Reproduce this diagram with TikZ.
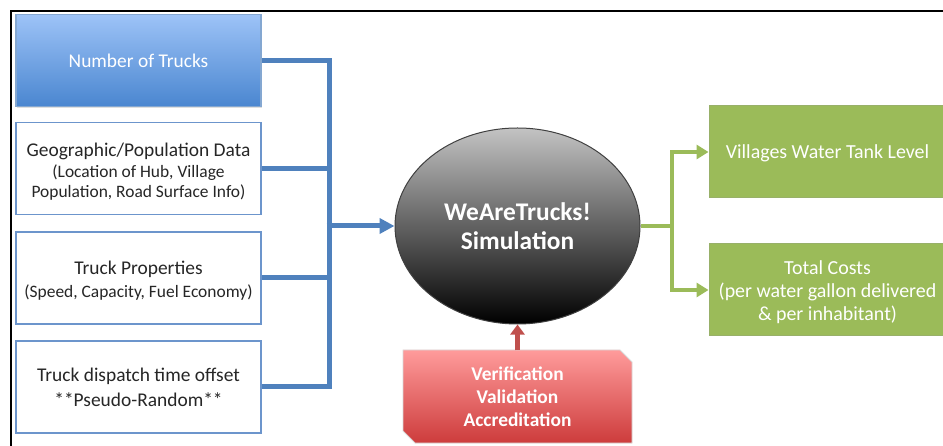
\documentclass[tikz,border=0pt]{standalone}
\usepackage{fontspec}
\setmainfont{Carlito}
\usetikzlibrary{shapes.geometric,arrows.meta,shadows}
\definecolor{oblue}{HTML}{4F81BD}
\definecolor{lblue}{HTML}{6C95CC}
\definecolor{ogreen}{HTML}{9BBB59}
\definecolor{dgreen}{HTML}{7E9C44}
\definecolor{ored}{HTML}{C0504D}
\definecolor{bluetop}{HTML}{9DC3F7}
\definecolor{bluebot}{HTML}{4A86D0}
\definecolor{graytop}{HTML}{C3C3C3}
\definecolor{redtop}{HTML}{FF9B9B}
\definecolor{redbot}{HTML}{CD3C3C}
\newcommand{\subfs}{\fontsize{17.5}{20}\selectfont}
\tikzset{
  inbox/.style={draw=lblue, line width=1.5bp, fill=white, minimum width=245bp, minimum height=92bp, align=center, font=\fontsize{19.5}{25}\selectfont, text=black!85, inner sep=0pt},
  intext/.style={align=center, font=\fontsize{19.5}{25}\selectfont, text=black!85, inner sep=0pt},
  outbox/.style={draw=dgreen!80, line width=1bp, fill=ogreen, minimum width=237bp, minimum height=92bp, align=center, font=\fontsize{20}{23}\selectfont, text=white, inner sep=0pt},
  outtext/.style={align=center, font=\fontsize{20}{23}\selectfont, text=white, inner sep=0pt},
  bline/.style={draw=oblue, line width=5bp},
  gline/.style={draw=ogreen, line width=4.5bp},
  rline/.style={draw=ored, line width=4.5bp}
}
\begin{document}
\begin{tikzpicture}[x=1bp,y=-1bp]
\useasboundingbox (0,0) rectangle (943,446);
\fill[white] (0,0) rectangle (943,446);
% frame
\draw[line width=2bp] (11,446) -- (11,11) -- (943,11);
% input boxes
\node[inbox, draw=oblue!70, top color=bluetop, bottom color=bluebot, text=white, drop shadow={opacity=0.25,shadow xshift=1bp,shadow yshift=-2bp}] (n1) at (138.5,60.5) {Number of Trucks};
\node[inbox] (n2) at (138.5,168.5) {};
\node[intext] (n2t) at ([yshift=-3bp]n2.center) {Geographic/Population Data\\[-4bp]{\subfs(Location of Hub, Village}\\[-5bp]{\subfs Population, Road Surface Info)}};
\node[inbox] (n3) at (138.5,278) {};
\node[intext] (n3t) at ([yshift=-3bp]n3.center) {Truck Properties\\[-2bp]{\subfs(Speed,\ Capacity, Fuel Economy)}};
\node[inbox] (n4) at (138.5,387) {Truck dispatch time offset\\**Pseudo-Random**};
% simulation ellipse
\node[ellipse, draw=black!75, line width=1bp, minimum width=245bp, minimum height=196bp, top color=graytop, bottom color=black, text=white, align=center, font=\bfseries\fontsize{25.5}{29}\selectfont] (sim) at (517.5,226) {WeAreTrucks!\\Simulation};
% blue connectors
\coordinate (bj) at (329,226);
\draw[bline] (n1.east) -| (bj);
\draw[bline] (n2.east) -| (bj);
\draw[bline] (n3.east) -| (bj);
\draw[bline] (n4.east) -| (bj);
\draw[bline, -{Triangle[length=15bp,width=15bp]}] ([xshift=-2.5bp]bj) -- (sim.west);
% red box
\shade[top color=redtop, bottom color=redbot, draw=white!85!black, line width=0.8bp]
  (403,350) -- (620,350) -- (632,362) -- (632,443) -- (415,443) -- (403,431) -- cycle;
\node[minimum width=229bp, minimum height=93bp, inner sep=0pt, align=center, text=white, font=\bfseries\fontsize{19.5}{23}\selectfont] (vva) at (517.5,397) {Verification\\Validation\\Accreditation};
\draw[rline, -{Triangle[length=10bp,width=14bp]}] (vva.north) -- (sim.south);
% outputs
\node[outbox] (o1) at (827.5,152) {};
\node[outtext] (o1t) at ([yshift=-1.5bp]o1.center) {Villages Water Tank Level};
\node[outbox] (o2) at (827.5,290) {};
\node[outtext] (o2t) at ([yshift=-2bp]o2.center) {Total Costs\\(per water gallon delivered\\\& per inhabitant)};
\coordinate (gj) at (672,226);
\draw[gline] (sim.east) -- ([xshift=2.25bp]gj);
\draw[gline, -{Triangle[length=12bp,width=14bp]}] ([yshift=2bp]gj) |- (o1.west);
\draw[gline, -{Triangle[length=12bp,width=14bp]}] ([yshift=-2bp]gj) |- (o2.west);
\end{tikzpicture}
\end{document}
